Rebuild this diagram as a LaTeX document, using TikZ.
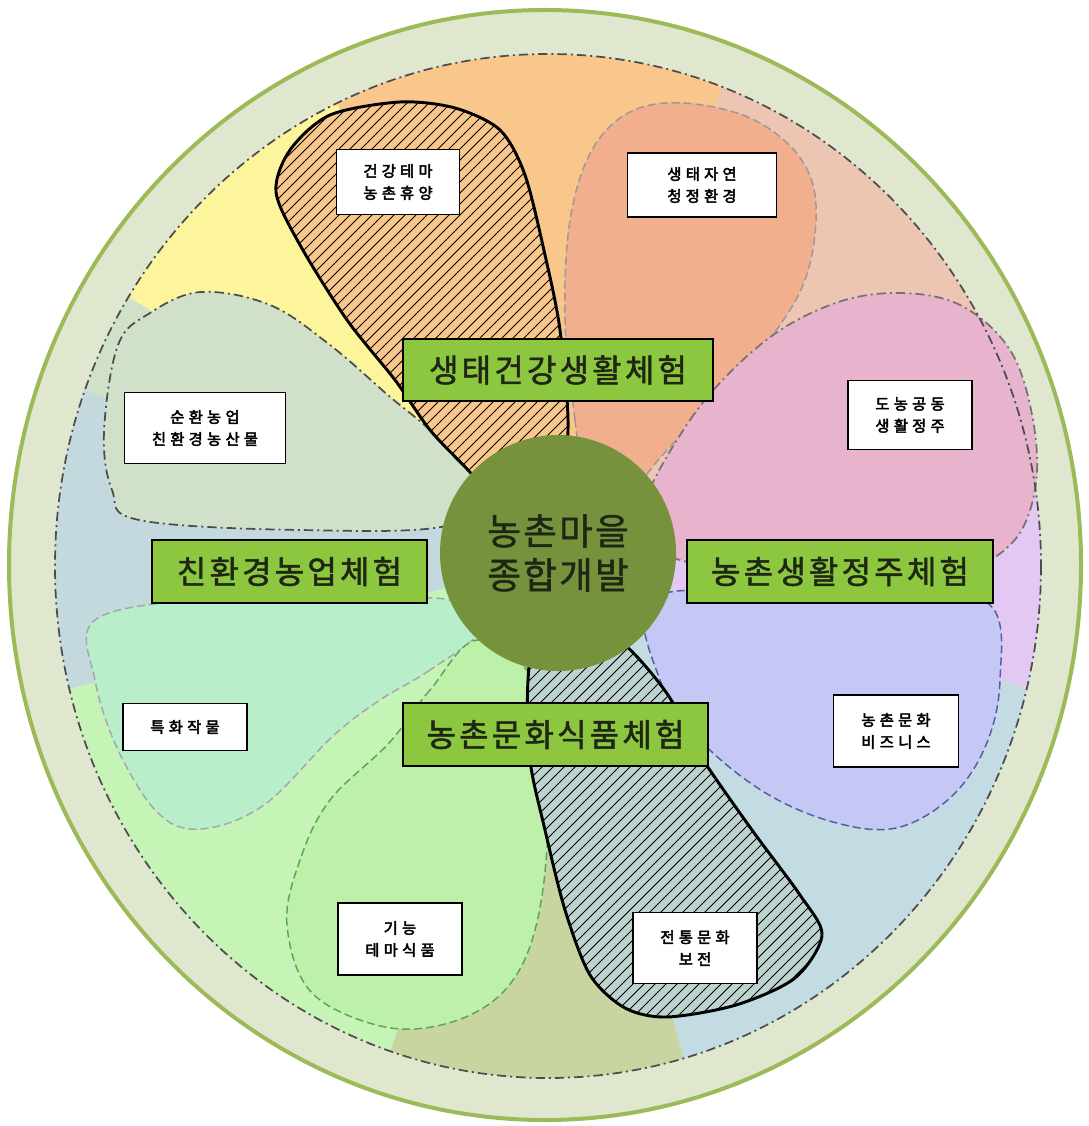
\documentclass[tikz,border=0pt]{standalone}
\usepackage{fontspec}
\newfontfamily\kr{Noto Sans CJK KR}
\newfontfamily\krb[FakeBold=1.5,LetterSpace=10]{Noto Sans CJK KR}
\newfontfamily\krc[FakeBold=1.2,LetterSpace=6]{Noto Sans CJK KR}
\newfontfamily\krs[FakeBold=3,LetterSpace=28]{Noto Sans CJK KR}
\definecolor{ringfill}{HTML}{DFE7CF}
\definecolor{ringline}{HTML}{9BBB59}
\definecolor{corange}{HTML}{F9C78B}
\definecolor{cyellow}{HTML}{FDF59B}
\definecolor{cpeach}{HTML}{ECC6B2}
\definecolor{csalmon}{HTML}{F2AF8E}
\definecolor{cpink}{HTML}{E7B3CD}
\definecolor{clavender}{HTML}{E2C8F2}
\definecolor{cblue}{HTML}{C5C8F5}
\definecolor{clightblue}{HTML}{C3DBE3}
\definecolor{colive}{HTML}{C9D5A0}
\definecolor{cgreen}{HTML}{BDF0A8}
\definecolor{clightgreen}{HTML}{C6F3B6}
\definecolor{cmint}{HTML}{B8EFCA}
\definecolor{cbluegray}{HTML}{C4D9DD}
\definecolor{cgraygreen}{HTML}{D1E0C9}
\definecolor{chatchblue}{HTML}{BDD3D0}
\definecolor{ccenter}{HTML}{76923C}
\definecolor{cbox}{HTML}{8DC63F}
\definecolor{ctext}{HTML}{1E2614}
\begin{document}
\begin{tikzpicture}[x=0.75pt,y=-0.75pt,
  greenbox/.style={draw=black, line width=1.5pt, fill=cbox, text=ctext,
    font=\krb\fontsize{24}{26}\selectfont, inner sep=0pt},
  labelbox/.style={draw=black, line width=1.2pt, fill=white, text=black,
    font=\krs\fontsize{11.5}{16.5}\selectfont, align=center, inner sep=0pt},
  dashdotline/.style={draw=black!70, line width=1.3pt,
    dash pattern=on 7pt off 3pt on 1.5pt off 3pt},
  petaldash/.style={line width=1.1pt, dash pattern=on 6pt off 3pt},
  hatchborder/.style={draw=black, line width=2.2pt},
  hatchline/.style={draw=black, line width=0.7pt},
  sector/.style={shift={(550,560)}}
]
\useasboundingbox (0,0) rectangle (1088,1126);

% outer ring
\filldraw[fill=ringfill, draw=ringline, line width=3pt] (545,565) ellipse [x radius=536, y radius=555];

% inner region: sectors
\begin{scope}
  \clip (548,566) ellipse [x radius=493, y radius=512];
  \fill[sector, clavender]   (0,0) -- (-15:900) arc[start angle=-15, end angle=15, radius=900] -- cycle;
  \fill[sector, clightblue]  (0,0) -- (15:900) arc[start angle=15, end angle=75, radius=900] -- cycle;
  \fill[sector, colive]      (0,0) -- (75:900) arc[start angle=75, end angle=108, radius=900] -- cycle;
  \fill[sector, clightgreen] (0,0) -- (108:900) arc[start angle=108, end angle=165, radius=900] -- cycle;
  \fill[sector, cbluegray]   (0,0) -- (165:900) arc[start angle=165, end angle=200, radius=900] -- cycle;
  \fill[sector, cgraygreen]  (0,0) -- (200:900) arc[start angle=200, end angle=212, radius=900] -- cycle;
  \fill[sector, cyellow]     (0,0) -- (212:900) arc[start angle=212, end angle=245, radius=900] -- cycle;
  \fill[sector, corange]     (0,0) -- (245:900) arc[start angle=245, end angle=290, radius=900] -- cycle;
  \fill[sector, cpeach]      (0,0) -- (290:900) arc[start angle=290, end angle=345, radius=900] -- cycle;
\end{scope}

% petals
\def\psalmon{plot[smooth cycle, tension=0.6] coordinates {(590,520) (575,420) (565,320) (570,220) (592,150) (630,112) (683,103) (750,118) (798,155) (816,205) (805,280) (765,345) (705,410) (650,470) (620,520)}}
\def\ppink{plot[smooth cycle, tension=0.6] coordinates {(640,520) (690,420) (760,345) (830,305) (896,293) (960,305) (1010,350) (1033,420) (1035,490) (1010,545) (950,570) (800,570) (680,560)}}
\def\pblue{plot[smooth cycle, tension=0.6] coordinates {(650,600) (760,590) (900,590) (990,605) (1000,680) (986,745) (951,797) (896,828) (833,822) (764,792) (700,740) (660,680)}}
\def\pgreen{plot[smooth cycle, tension=0.6] coordinates {(480,640) (430,690) (389,743) (330,800) (300,860) (287,925) (312,993) (385,1027) (452,1022) (505,990) (535,930) (548,830) (545,700)}}
\def\pmint{plot[smooth cycle, tension=0.6] coordinates {(480,630) (430,670) (380,700) (333,736) (264,805) (201,829) (158,813) (118,750) (95,680) (95,620) (200,600) (350,600) (450,600)}}
\def\pgraygreen{plot[smooth cycle, tension=0.6] coordinates {(480,480) (430,430) (389,396) (330,345) (270,305) (201,292) (150,313) (118,345) (104,432) (112,490) (139,520) (300,530) (450,525)}}
\def\phtop{plot[smooth cycle, tension=0.5] coordinates {(468,470) (430,430) (395,380) (347,320) (300,245) (276,192) (290,150) (330,115) (400,102) (455,108) (500,130) (525,175) (545,255) (560,330) (568,430) (555,520) (500,505)}}
\def\phbot{plot[smooth cycle, tension=0.5] coordinates {(540,600) (528,680) (530,760) (545,830) (565,910) (590,975) (625,1008) (667,1017) (736,1005) (795,978) (822,935) (800,895) (752,830) (700,755) (668,695) (625,645) (580,620)}}

\fill[cmint] \pmint;
\draw[petaldash, draw=gray!70] \pmint;
\fill[cgreen] \pgreen;
\draw[petaldash, draw=gray!70!green] \pgreen;
\fill[cgraygreen] \pgraygreen;
\draw[dashdotline] \pgraygreen;
\fill[csalmon] \psalmon;
\draw[petaldash, draw=gray!80] \psalmon;
\fill[cpink] \ppink;
\draw[dashdotline, draw=black!55] \ppink;
\fill[cblue] \pblue;
\draw[petaldash, draw=gray!70!blue] \pblue;

% hatched petals
\fill[corange] \phtop;
\begin{scope}
  \clip \phtop;
  \foreach \c in {400,411,...,1100} \draw[hatchline] (\c,0) -- ++(-1126,1126);
\end{scope}
\draw[hatchborder] \phtop;

\fill[chatchblue] \phbot;
\begin{scope}
  \clip \phbot;
  \foreach \c in {1100,1111,...,1800} \draw[hatchline] (\c,0) -- ++(-1126,1126);
\end{scope}
\draw[hatchborder] \phbot;

% inner dash-dot boundary
\draw[dashdotline] (548,566) ellipse [x radius=493, y radius=512];

% centre
\node[circle, fill=ccenter, minimum size=177pt, inner sep=0pt, text=ctext,
  font=\krc\fontsize{27.5}{33}\selectfont, align=center] (center) at (558,553) {농촌마을\\종합개발};

% category boxes
\node[greenbox, minimum width=232.5pt, minimum height=46.5pt] (g1) at (558,370) {생태건강생활체험};
\node[greenbox, minimum width=206pt, minimum height=47pt] (g2) at (289.5,571.5) {친환경농업체험};
\node[greenbox, minimum width=229.5pt, minimum height=47pt] (g3) at (840,571.5) {농촌생활정주체험};
\node[greenbox, minimum width=229pt, minimum height=47pt] (g4) at (555.5,734.5) {농촌문화식품체험};

% small labels
\node[labelbox, minimum width=92pt, minimum height=49pt] (l1) at (398,182) {건강테마\\농촌휴양};
\node[labelbox, minimum width=112pt, minimum height=48pt] (l2) at (702,185) {생태자연\\청정환경};
\node[labelbox, minimum width=93pt, minimum height=52pt] (l3) at (910,415) {도농공동\\생활정주};
\node[labelbox, minimum width=94pt, minimum height=54pt] (l4) at (896,731) {농촌문화\\비즈니스};
\node[labelbox, minimum width=93pt, minimum height=53pt] (l5) at (695,948) {전통문화\\보전};
\node[labelbox, minimum width=93pt, minimum height=54pt] (l6) at (400,939) {기능\\테마식품};
\node[labelbox, minimum width=93pt, minimum height=35pt] (l7) at (185,727) {특화작물};
\node[labelbox, minimum width=121pt, minimum height=53pt] (l8) at (205,428) {순환농업\\친환경농산물};
\end{tikzpicture}
\end{document}
